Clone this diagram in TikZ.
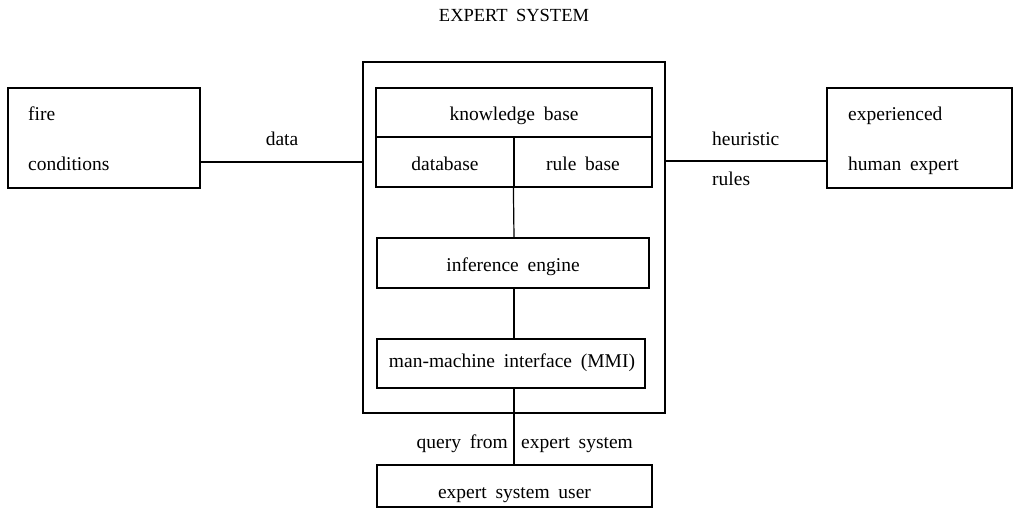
\documentclass[tikz,border=0pt]{standalone}
\usepackage{fontspec}
\setmainfont{Liberation Serif}[WordSpace=1.8]
\begin{document}
\begin{tikzpicture}[x=1pt,y=-1pt,
  box/.style={draw,line width=1.2pt,rectangle,inner sep=0pt},
  lbl/.style={inner sep=0pt,font=\fontsize{19.5}{22}\selectfont},
  conn/.style={line width=1.2pt}]
\useasboundingbox (0,0) rectangle (1019,517);
% title
\node[inner sep=0pt,font=\fontsize{18.5}{22}\selectfont,anchor=base] (title) at (514,21) {EXPERT SYSTEM};
% left box
\node[box,minimum width=192pt,minimum height=100pt] (fire) at (104,138) {};
\node[lbl,anchor=base west] (t1) at (28,120) {fire};
\node[lbl,anchor=base west] (t2) at (28,170) {conditions};
% outer expert system box
\node[box,minimum width=302pt,minimum height=351pt] (outer) at (514,237.5) {};
\node[box,minimum width=276pt,minimum height=49pt] (kb) at (514,112.5) {};
\node[lbl,anchor=base] (tkb) at (514,120) {knowledge base};
\node[box,minimum width=138pt,minimum height=50pt] (db) at (445,162) {};
\node[lbl,anchor=base] (tdb) at (445,170) {database};
\node[box,minimum width=138pt,minimum height=50pt] (rb) at (583,162) {};
\node[lbl,anchor=base] (trb) at (583,170) {rule base};
\node[box,minimum width=272pt,minimum height=50pt] (ie) at (513,263) {};
\node[lbl,anchor=base] (tie) at (513,271.5) {inference engine};
\node[box,minimum width=268pt,minimum height=49pt] (mmi) at (511,363.5) {};
\node[lbl,anchor=base] (tmmi) at (512,367) {man-machine interface (MMI)};
% user
\node[box,minimum width=275pt,minimum height=42pt] (user) at (514.5,486) {};
\node[lbl,anchor=base] (tuser) at (514.5,498) {expert system user};
% right box
\node[box,minimum width=185pt,minimum height=100pt] (hum) at (919.5,138) {};
\node[lbl,anchor=base west] (t3) at (848,120) {experienced};
\node[lbl,anchor=base west] (t4) at (848,170) {human expert};
% connectors
\coordinate (dl) at (0,162);
\coordinate (hl) at (0,161);
\coordinate (vx) at (514,0);
\draw[conn] (fire.east |- dl) -- (outer.west |- dl);
\node[lbl,anchor=base] (tdata) at (282,145) {data};
\draw[conn] (outer.east |- hl) -- (hum.west |- hl);
\node[lbl,anchor=base west] (th) at (712,145) {heuristic};
\node[lbl,anchor=base west] (tr) at (712,185) {rules};
\draw[conn] (rb.south west) -- (ie.north -| vx);
\draw[conn] (ie.south -| vx) -- (mmi.north -| vx);
\draw[conn] (mmi.south -| vx) -- (user.north -| vx);
\node[lbl,anchor=base east] (tq) at (508,448) {query from};
\node[lbl,anchor=base west] (te) at (521,448) {expert system};
\end{tikzpicture}
\end{document}
